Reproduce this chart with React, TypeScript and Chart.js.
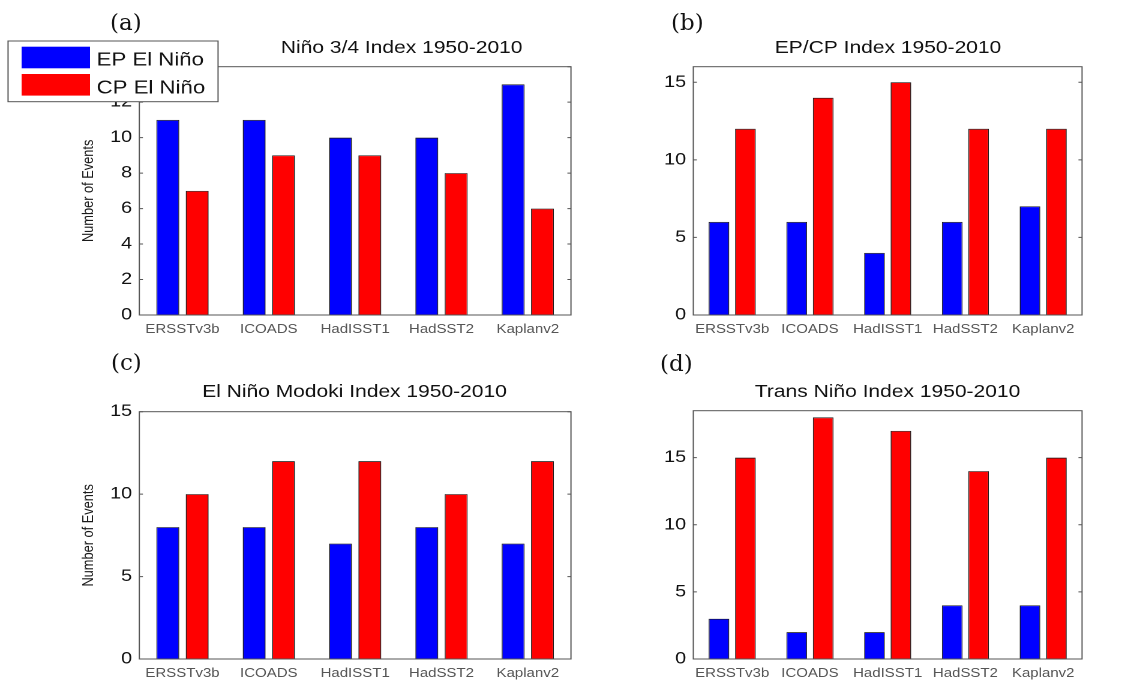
import React, { useEffect, useRef } from "react";
import { Chart, registerables } from "chart.js";

Chart.register(...registerables);

// Reconstructions compared in every panel
const datasetNames = ["ERSSTv3b", "ICOADS", "HadISST1", "HadSST2", "Kaplanv2"];
const seriesNames = ["EP El Niño", "CP El Niño"];

// Event counts per index (EP / CP)
const nino34EP = [11, 11, 10, 10, 13];
const nino34CP = [7, 9, 9, 8, 6];
const epcpEP = [6, 6, 4, 6, 7];
const epcpCP = [12, 14, 15, 12, 12];
const modokiEP = [8, 8, 7, 8, 7];
const modokiCP = [10, 12, 12, 10, 12];
const transEP = [3, 2, 2, 4, 4];
const transCP = [15, 18, 17, 14, 15];

const panelTitles = [
  "Niño 3/4 Index 1950-2010",
  "EP/CP Index 1950-2010",
  "El Niño Modoki Index 1950-2010",
  "Trans Niño Index 1950-2010",
];
const panelLetters = ["(a)", "(b)", "(c)", "(d)"];
const yMaxes = [14, 16, 15, 18.5];
const yStepSizes = [2, 5, 5, 5];
const yAxisLabel = "Number of Events";

const EP_COLOR = "#0000ff";
const CP_COLOR = "#ff0000";
const SANS = '"Liberation Sans", Arial, Helvetica, sans-serif';
// The figure is drawn with a horizontal stretch, like the original MATLAB export
const STRETCH = 1.2;

type Frame = {
  x: number; y: number; w: number; h: number;
  left: number; right: number; top: number; bottom: number;
  titleX: number; titleY: number;
  yLabel: boolean; legend: boolean;
};

// Canvas frames in unstretched canvas units
const frames: Frame[] = [
  { x: 0, y: 0, w: 500, h: 340, left: 116.1, right: 475.8, top: 66.7, bottom: 315, titleX: 334.7, titleY: 53, yLabel: true, legend: true },
  { x: 600, y: 0, w: 449, h: 340, left: 77.75, right: 401.7, top: 66.7, bottom: 315, titleX: 240, titleY: 53, yLabel: false, legend: false },
  { x: 0, y: 340, w: 500, h: 341, left: 116.1, right: 475.8, top: 71.7, bottom: 319, titleX: 295.4, titleY: 57, yLabel: true, legend: false },
  { x: 600, y: 340, w: 449, h: 341, left: 77.75, right: 401.7, top: 70.7, bottom: 319, titleX: 239.6, titleY: 57, yLabel: false, legend: false },
];

const seriesByPanel = [
  [nino34EP, nino34CP],
  [epcpEP, epcpCP],
  [modokiEP, modokiCP],
  [transEP, transCP],
];

// Panel letters (screen px)
const letterPos = [
  { x: 110, y: 11 },
  { x: 671, y: 11 },
  { x: 111, y: 351 },
  { x: 660, y: 352 },
];

const framePlugin = {
  id: "frame",
  afterDraw(chart: any, _args: any, opts: any) {
    const { ctx, chartArea: a, scales } = chart;
    ctx.save();
    // axes box
    ctx.strokeStyle = "#555";
    ctx.lineWidth = 1;
    ctx.strokeRect(a.left, a.top, a.right - a.left, a.bottom - a.top);
    // inward ticks on both vertical sides
    const ys = scales.y;
    ctx.beginPath();
    ys.ticks.forEach((t: any) => {
      const py = ys.getPixelForValue(t.value);
      ctx.moveTo(a.left, py);
      ctx.lineTo(a.left + 3, py);
      ctx.moveTo(a.right, py);
      ctx.lineTo(a.right - 3, py);
    });
    ctx.stroke();
    // title
    ctx.fillStyle = "#111";
    ctx.font = `17.5px ${SANS}`;
    ctx.textAlign = "center";
    ctx.textBaseline = "alphabetic";
    ctx.fillText(opts.title, opts.titleX, opts.titleY);
    // legend box
    if (opts.legend) {
      const bx = 6.7, by = 41, bw = 175, bh = 60.7;
      ctx.fillStyle = "#ffffff";
      ctx.fillRect(bx, by, bw, bh);
      ctx.strokeStyle = "#555";
      ctx.strokeRect(bx, by, bw, bh);
      const rows = [
        { y: 46.7, base: 65.7 },
        { y: 74, base: 93.3 },
      ];
      chart.data.datasets.forEach((ds: any, i: number) => {
        const r = rows[i];
        ctx.fillStyle = ds.backgroundColor;
        ctx.fillRect(18, r.y, 57, 21.6);
        ctx.fillStyle = "#111";
        ctx.font = `18.5px ${SANS}`;
        ctx.textAlign = "left";
        ctx.fillText(ds.label, 80.5, r.base);
      });
    }
    ctx.restore();
  },
};

function Panel({ index }: { index: number }) {
  const ref = useRef<HTMLCanvasElement>(null);
  const f = frames[index];
  useEffect(() => {
    if (!ref.current) return;
    const [ep, cp] = seriesByPanel[index];
    const chart = new Chart(ref.current, {
      type: "bar",
      data: {
        labels: datasetNames,
        datasets: [
          { label: seriesNames[0], data: ep, backgroundColor: EP_COLOR, borderColor: "#1a1a1a", borderWidth: 0.8 },
          { label: seriesNames[1], data: cp, backgroundColor: CP_COLOR, borderColor: "#1a1a1a", borderWidth: 0.8 },
        ],
      },
      plugins: [framePlugin],
      options: {
        responsive: false,
        animation: false,
        devicePixelRatio: 2,
        events: [],
        layout: { padding: { left: 0, top: f.top, right: f.w - f.right, bottom: 0 } },
        datasets: { bar: { categoryPercentage: 0.68, barPercentage: 0.78 } },
        plugins: {
          legend: { display: false },
          title: { display: false },
          tooltip: { enabled: false },
          frame: { title: panelTitles[index], titleX: f.titleX, titleY: f.titleY, legend: f.legend },
        } as any,
        scales: {
          x: {
            type: "category",
            offset: true,
            grid: { display: false, drawTicks: false },
            border: { display: false },
            ticks: { color: "#555", font: { family: SANS, size: 12.5 }, padding: 7, maxRotation: 0, autoSkip: false },
            afterFit: (s: any) => { s.height = f.h - f.bottom; },
          },
          y: {
            min: 0,
            max: yMaxes[index],
            grid: { display: false, drawTicks: false },
            border: { display: false },
            ticks: { stepSize: yStepSizes[index], includeBounds: false, color: "#111", font: { family: SANS, size: 16.5 }, padding: 6 },
            title: {
              display: f.yLabel,
              text: yAxisLabel,
              color: "#1a1a1a",
              font: { family: SANS, size: 12.8 },
              padding: { top: 66.3, bottom: 0 },
            },
            afterFit: (s: any) => { s.width = f.left; },
          },
        },
      } as any,
    });
    return () => chart.destroy();
  }, [index]);
  return (
    <canvas
      ref={ref}
      width={f.w}
      height={f.h}
      style={{
        position: "absolute",
        left: f.x,
        top: f.y,
        width: f.w,
        height: f.h,
        transform: `scaleX(${STRETCH})`,
        transformOrigin: "0 0",
      }}
    />
  );
}

export default function App() {
  return (
    <div
      style={{
        position: "fixed",
        left: 0,
        top: 0,
        width: 1139,
        height: 681,
        background: "#ffffff",
        overflow: "hidden",
      }}
    >
      {[0, 1, 2, 3].map((i) => (
        <Panel key={i} index={i} />
      ))}
      {panelLetters.map((t, i) => (
        <span
          key={t}
          style={{
            position: "absolute",
            left: letterPos[i].x,
            top: letterPos[i].y,
            fontFamily: '"DejaVu Serif", "Liberation Serif", serif',
            fontSize: 23,
            lineHeight: "23px",
            color: "#111",
            zIndex: 2,
          }}
        >
          {t}
        </span>
      ))}
    </div>
  );
}
